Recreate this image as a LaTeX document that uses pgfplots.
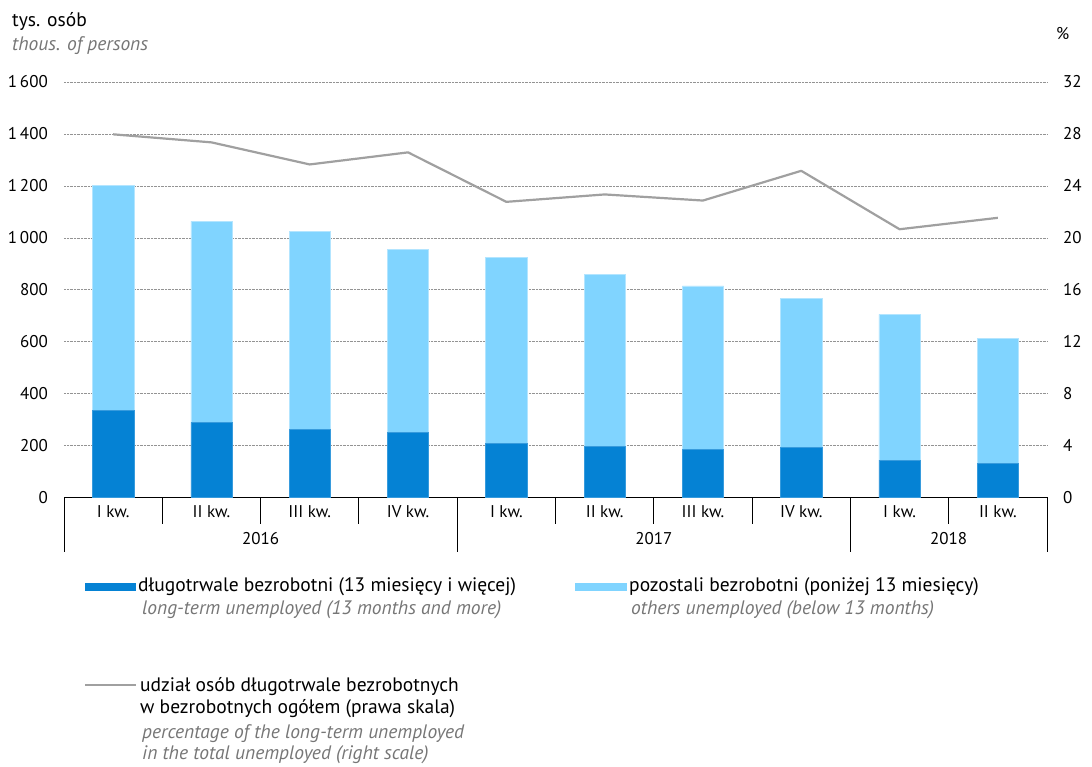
\documentclass[border=0pt]{standalone}
\usepackage{pgfplots}
\pgfplotsset{compat=1.18}
\usepackage{pgfplotstable}
\usepackage{fontspec}
\setmainfont{PT Sans}

\definecolor{darkbar}{RGB}{5,130,212}
\definecolor{lightbar}{RGB}{128,212,255}
\definecolor{sharegray}{RGB}{160,160,160}
\definecolor{engray}{RGB}{118,118,118}
\newcommand\fs{\fontsize{17}{20}\selectfont}
\newcommand\lfs{\fontsize{19.5}{23}\selectfont}

% quarters 2016 Q1 ... 2018 Q2; thousands of persons, share in %
\pgfplotstableread{
q long other share
0 335 867 27.97
1 289 774 27.35
2 262 763 25.65
3 251 705 26.58
4 208 717 22.77
5 197 663 23.34
6 184 631 22.87
7 192 574 25.16
8 144 561 20.66
9 131 483 21.54
}\data

\begin{document}
\begin{tikzpicture}[x=1pt,y=1pt]
\useasboundingbox (0,0) rectangle (1092,766);

\begin{axis}[
  at={(64pt,268.5pt)}, anchor=south west,
  scale only axis, width=983pt, height=415.5pt,
  xmin=-0.5, xmax=9.5,
  ymin=0, ymax=1600,
  ytick={0,200,...,1600},
  xtick={0,...,9},
  xticklabels={I kw.,II kw.,III kw.,IV kw.,I kw.,II kw.,III kw.,IV kw.,I kw.,II kw.},
  axis x line*=bottom, axis y line*=left,
  x axis line style={-, black, line width=0.9pt},
  y axis line style={draw=none},
  major tick length=0pt,
  ymajorgrids, grid style={densely dotted, gray!85, line width=0.5pt},
  /pgf/number format/assume math mode=true,
  /pgf/number format/1000 sep={\,},
  tick label style={font=\fs},
  yticklabel style={anchor=east, inner sep=0pt, xshift=-16pt},
  xticklabel style={anchor=base, inner sep=0pt, yshift=-20pt},
  ybar stacked, bar width=0.42,
  clip=false,
]
\addplot[fill=darkbar, draw=darkbar!80!white, line width=0.5pt] table[x=q,y=long] \data;
\addplot[fill=lightbar, draw=lightbar!60!white, line width=0.5pt] table[x=q,y=other] \data;

\pgfplotsinvokeforeach{-0.5,0.5,1.5,2.5,3.5,4.5,5.5,6.5,7.5,8.5,9.5}{
  \draw[black, line width=0.9pt] (axis cs:#1,0) -- ++(0pt,-26pt);
}
\pgfplotsinvokeforeach{-0.5,3.5,7.5,9.5}{
  \draw[black, line width=0.9pt] (axis cs:#1,0) -- ++(0pt,-54pt);
}
\node[font=\fs, anchor=base] at ([yshift=-47pt]axis cs:1.5,0) {2016};
\node[font=\fs, anchor=base] at ([yshift=-47pt]axis cs:5.5,0) {2017};
\node[font=\fs, anchor=base] at ([yshift=-47pt]axis cs:8.5,0) {2018};
\end{axis}

\begin{axis}[
  at={(64pt,268.5pt)}, anchor=south west,
  scale only axis, width=983pt, height=415.5pt,
  xmin=-0.5, xmax=9.5,
  ymin=0, ymax=32,
  ytick={0,4,...,32},
  axis x line=none,
  axis y line*=right,
  y axis line style={draw=none},
  major tick length=0pt,
  /pgf/number format/assume math mode=true,
  tick label style={font=\fs},
  yticklabel style={anchor=west, inner sep=0pt, xshift=16pt},
  clip=false,
]
\addplot[sharegray, line width=2.2pt, line join=round] table[x=q,y=share] \data;
\end{axis}

% titles
\node[font=\lfs, anchor=base west, inner sep=0pt] at (12,739) {tys. osób};
\node[font=\lfs\itshape, text=engray, anchor=base west, inner sep=0pt] at (12,715) {thous. of persons};
\node[font=\fs, anchor=base west, inner sep=0pt] at (1056,726) {\%};

% legend
\fill[darkbar] (85,175) rectangle (136,183);
\node[font=\lfs, anchor=base west, inner sep=0pt] at (138,175) {długotrwale bezrobotni (13 miesięcy i więcej)};
\node[font=\lfs\itshape, text=engray, anchor=base west, inner sep=0pt] at (142,151) {long-term unemployed (13 months and more)};

\fill[lightbar] (575,175) rectangle (627,183);
\node[font=\lfs, anchor=base west, inner sep=0pt] at (629,175) {pozostali bezrobotni (poniżej 13 miesięcy)};
\node[font=\lfs\itshape, text=engray, anchor=base west, inner sep=0pt] at (631,151) {others unemployed (below 13 months)};

\draw[sharegray, line width=2.2pt] (85,81) -- (136,81);
\node[font=\lfs, anchor=base west, inner sep=0pt] at (140,75) {udział osób długotrwale bezrobotnych};
\node[font=\lfs, anchor=base west, inner sep=0pt] at (140,53) {w bezrobotnych ogółem (prawa skala)};
\node[font=\lfs\itshape, text=engray, anchor=base west, inner sep=0pt] at (142,28) {percentage of the long-term unemployed};
\node[font=\lfs\itshape, text=engray, anchor=base west, inner sep=0pt] at (142,7) {in the total unemployed (right scale)};
\end{tikzpicture}
\end{document}
